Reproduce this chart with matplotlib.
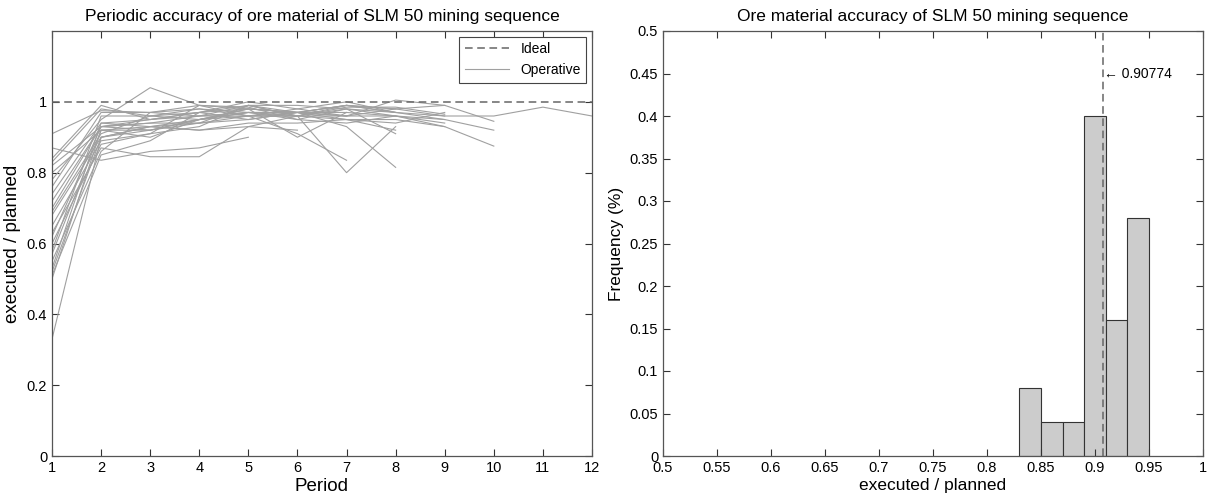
import matplotlib
matplotlib.use("Agg")
import matplotlib.pyplot as plt

plt.rcParams['font.family'] = ['Liberation Sans', 'DejaVu Sans']

# periodic accuracy (executed / planned) of each operative sequence, starting at period 1
runs = [
  [0.91, 0.975, 0.97, 0.99, 0.98, 0.97, 0.99, 0.97, 0.96, 0.96, 0.985, 0.96],
  [0.84, 0.99, 0.95, 0.97, 1.00, 0.98, 0.96, 0.98, 0.99, 0.945],
  [0.83, 0.98, 0.96, 0.98, 0.97, 0.96, 0.98, 0.96, 0.93, 0.875],
  [0.82, 0.93, 0.94, 0.96, 0.97, 0.97, 0.97, 0.96, 0.95, 0.92],
  [0.80, 0.92, 0.90, 0.95, 0.98, 0.97, 0.96, 1.005, 0.99],
  [0.78, 0.95, 1.04, 0.99, 0.96, 0.96, 0.985, 0.985, 0.965],
  [0.76, 0.97, 0.97, 0.96, 0.99, 0.96, 0.95, 0.95, 0.93],
  [0.74, 0.94, 0.93, 0.95, 0.96, 0.98, 1.00, 0.97, 0.95],
  [0.72, 0.93, 0.92, 0.95, 0.97, 0.95, 0.94, 0.96, 0.94],
  [0.69, 0.91, 0.96, 0.97, 0.95, 0.97, 0.99, 0.97],
  [0.68, 0.90, 0.92, 0.94, 0.96, 0.97, 0.93, 0.815],
  [0.65, 0.89, 0.91, 0.93, 0.99, 0.96, 0.80, 0.93],
  [0.62, 0.93, 0.94, 0.94, 0.99, 0.97, 0.96, 0.96],
  [0.60, 0.88, 0.91, 0.99, 0.985, 0.95, 0.98, 0.91],
  [0.57, 0.92, 0.93, 0.92, 0.94, 0.94, 0.95, 0.92],
  [0.55, 0.86, 0.97, 0.98, 0.96, 0.96, 0.96],
  [0.53, 0.94, 0.95, 0.96, 0.96, 0.91, 0.835],
  [0.51, 0.85, 0.89, 0.97, 0.98, 0.90, 0.97],
  [0.50, 0.92, 0.92, 0.95, 0.97, 0.97],
  [0.33, 0.90, 0.93, 0.92, 0.93, 0.92],
  [0.87, 0.835, 0.86, 0.87, 0.90],
  [0.63, 0.87, 0.845, 0.845, 0.93, 0.96, 0.99, 0.98],
  [0.58, 0.96, 0.96, 0.95, 0.98, 0.97, 0.95, 0.94, 0.97],
  [0.52, 0.90, 0.93, 0.94, 0.95, 0.97, 0.99, 0.98, 0.96],
  [0.70, 0.93, 0.95, 0.97, 0.99, 0.99, 0.98, 0.97],
]

# histogram of overall accuracy
bin_edges = [0.83, 0.85, 0.87, 0.89, 0.91, 0.93, 0.95]
freqs = [0.08, 0.04, 0.04, 0.40, 0.16, 0.28]
mean_acc = 0.90774

W, H = 1209, 497
fig = plt.figure(figsize=(W / 100, H / 100), dpi=100)

def style(ax):
  ax.tick_params(direction='in', top=True, right=True, labelsize=10.5,
                 colors='#333333', labelcolor='black', length=5, width=0.8)
  for s in ax.spines.values():
    s.set_color('#555555')
    s.set_linewidth(0.9)

# left: periodic accuracy
ax1 = fig.add_axes([52 / W, 41 / H, 540 / W, 425 / H])
ax1.axhline(1.0, color='#666666', ls='--', lw=1.1, dashes=(5, 3), label='Ideal', zorder=3)
for i, r in enumerate(runs):
  periods = list(range(1, len(r) + 1))
  ax1.plot(periods, r, color='#a0a0a0', lw=0.8, label='Operative' if i == 0 else None)
ax1.set_xlim(1, 12)
ax1.set_ylim(0, 1.2)
ax1.set_xticks(range(1, 13))
ax1.set_yticks([0, 0.2, 0.4, 0.6, 0.8, 1])
ax1.set_yticklabels(['0', '0.2', '0.4', '0.6', '0.8', '1'])
style(ax1)
ax1.set_title('Periodic accuracy of ore material of SLM 50 mining sequence', fontsize=12.5, pad=7)
ax1.set_xlabel('Period', fontsize=13.5, labelpad=2)
ax1.set_ylabel('executed / planned', fontsize=13.5, labelpad=4)
leg = ax1.legend(loc='upper right', fontsize=10, fancybox=False, framealpha=1,
                 edgecolor='#444444', handlelength=3.2, borderaxespad=0.4)
leg.get_frame().set_linewidth(0.8)

# right: histogram
ax2 = fig.add_axes([663 / W, 41 / H, 540 / W, 425 / H])
widths = [bin_edges[i + 1] - bin_edges[i] for i in range(len(freqs))]
ax2.bar(bin_edges[:-1], freqs, width=widths, align='edge', color='#cccccc',
        edgecolor='#333333', linewidth=0.8)
ax2.axvline(mean_acc, color='#666666', ls='--', lw=1.1, dashes=(5, 3))
ax2.text(mean_acc + 0.001, 0.45, '\u2190 0.90774', fontsize=10, va='center', ha='left')
ax2.set_xlim(0.5, 1)
ax2.set_ylim(0, 0.5)
xt = [0.5, 0.55, 0.6, 0.65, 0.7, 0.75, 0.8, 0.85, 0.9, 0.95, 1]
ax2.set_xticks(xt)
ax2.set_xticklabels(['0.5', '0.55', '0.6', '0.65', '0.7', '0.75', '0.8', '0.85', '0.9', '0.95', '1'])
yt = [0, 0.05, 0.1, 0.15, 0.2, 0.25, 0.3, 0.35, 0.4, 0.45, 0.5]
ax2.set_yticks(yt)
ax2.set_yticklabels(['0', '0.05', '0.1', '0.15', '0.2', '0.25', '0.3', '0.35', '0.4', '0.45', '0.5'])
style(ax2)
ax2.set_title('Ore material accuracy of SLM 50 mining sequence', fontsize=12.5, pad=7)
ax2.set_xlabel('executed / planned', fontsize=12.5, labelpad=2)
ax2.set_ylabel('Frequency (%)', fontsize=12.5, labelpad=4)

fig.savefig('out.png', dpi=100)
